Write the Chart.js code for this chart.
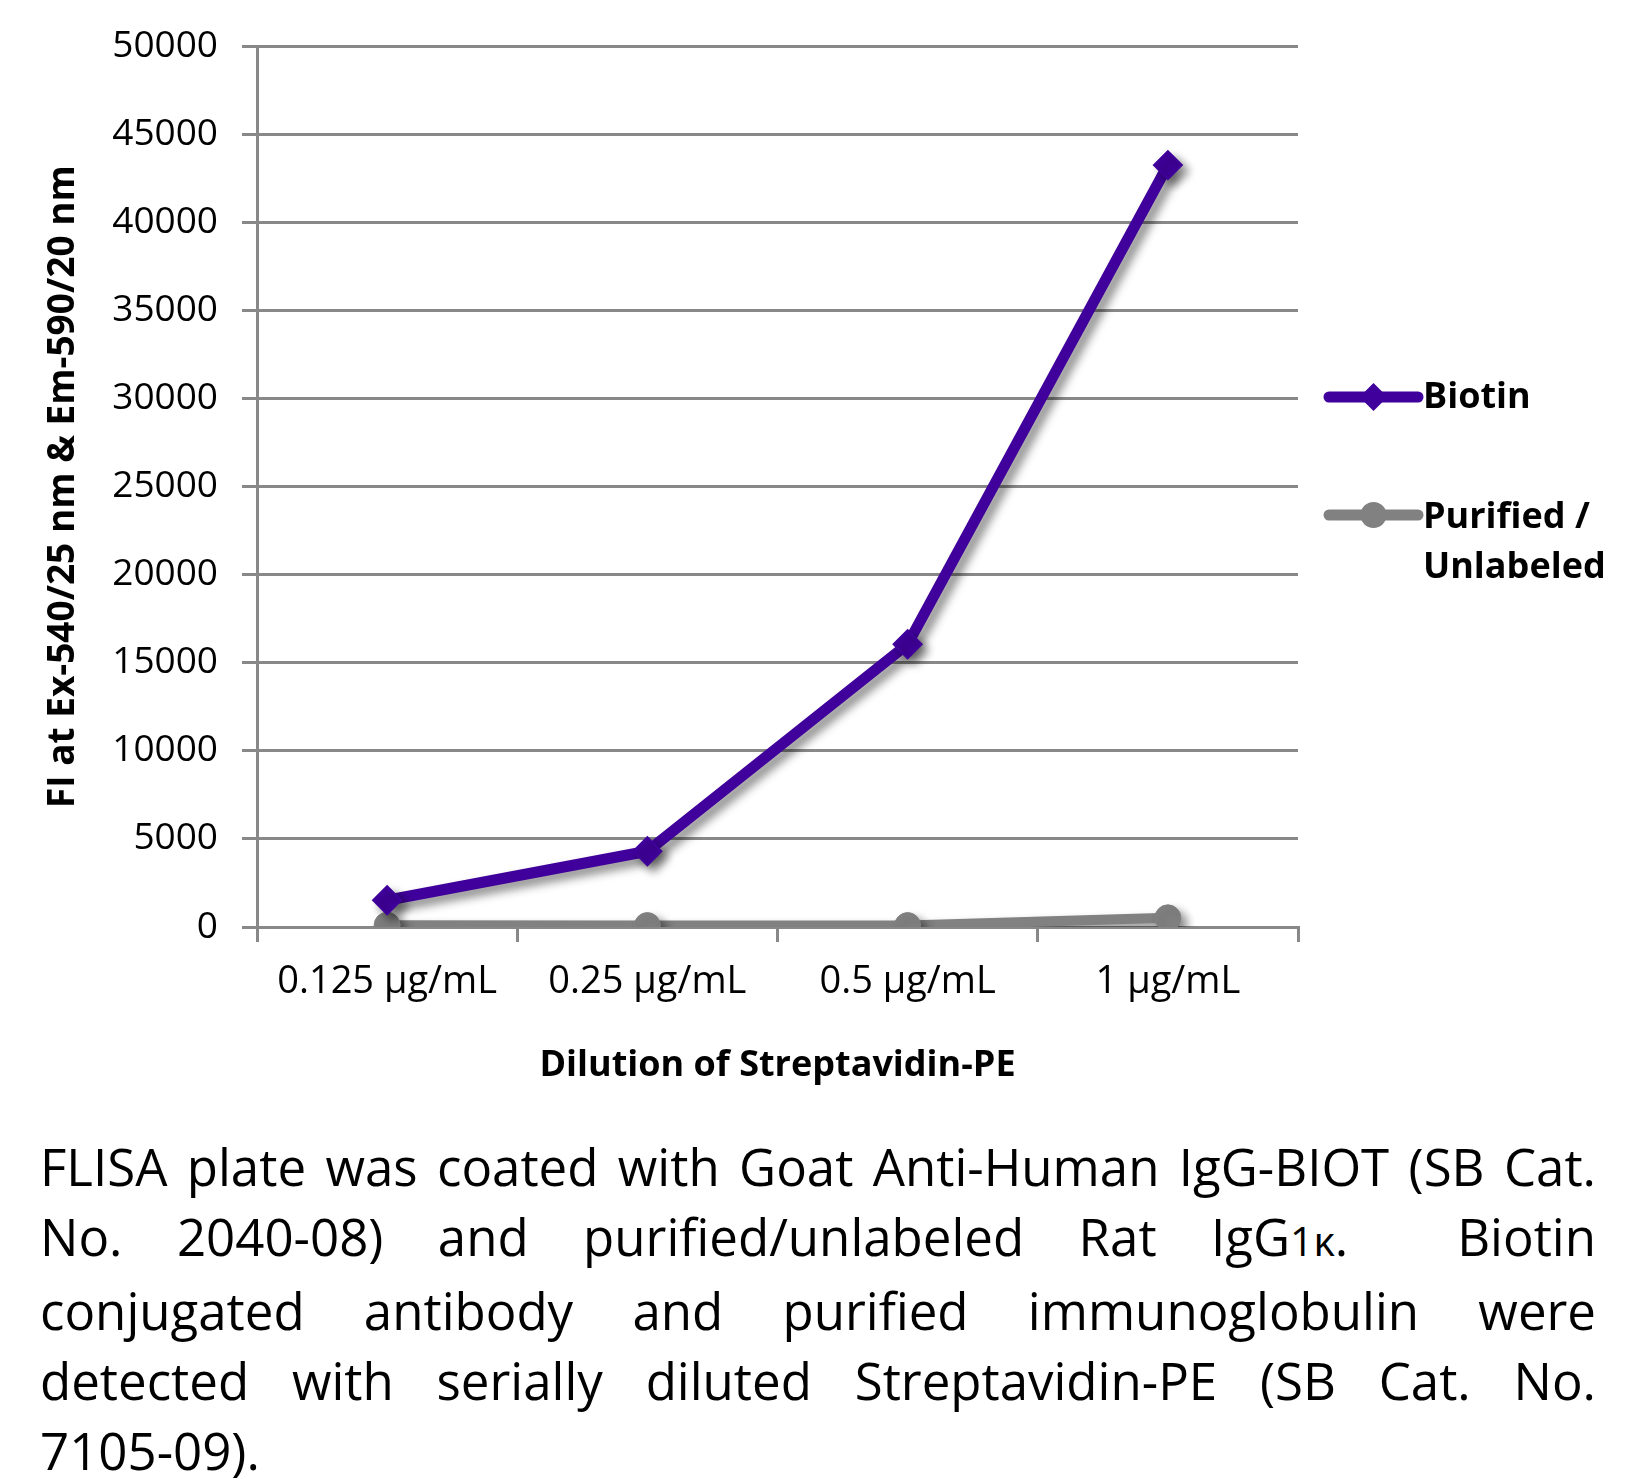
<!DOCTYPE html>
<html>
<head>
<meta charset="utf-8">
<script src="https://cdn.jsdelivr.net/npm/chart.js@4.4.1/dist/chart.umd.min.js"></script>
<style>
  html, body { margin: 0; padding: 0; background: #ffffff; }
  body { width: 1644px; height: 1481px; position: relative; overflow: hidden; font-family: "Open Sans", sans-serif; }
  #wrap { position: absolute; left: 0; top: 0; width: 1644px; height: 1110px; }
  #caption { position: absolute; left: 40px; top: 1131px; width: 1556px; font-size: 51px; line-height: 70px; color: #000; }
  #caption div { white-space: nowrap; }
  .sub { font-size: 0.8em; }
</style>
</head>
<body>
<div id="wrap"><canvas id="c"></canvas></div>
<div id="caption">
  <div class="ln">FLISA plate was coated with Goat Anti-Human IgG-BIOT (SB Cat.</div>
  <div class="ln">No. 2040-08) and purified/unlabeled Rat IgG<span class="sub">1κ</span>.&nbsp; Biotin</div>
  <div class="ln">conjugated antibody and purified immunoglobulin were</div>
  <div class="ln">detected with serially diluted Streptavidin-PE (SB Cat. No.</div>
  <div>7105-09).</div>
</div>
<script>
const categories = ['0.125 µg/mL', '0.25 µg/mL', '0.5 µg/mL', '1 µg/mL'];
const biotinValues = [1520, 4300, 16050, 43250];
const purifiedValues = [100, 80, 80, 520];
const seriesNames = ['Biotin', ['Purified /', 'Unlabeled']];
const yTickMin = 0, yTickMax = 50000, yTickStep = 5000;
const yTitle = 'FI at Ex-540/25 nm & Em-590/20 nm';
const xTitle = 'Dilution of Streptavidin-PE';

const PURPLE = '#40009b';
const GRAY = '#818181';
const GRID = '#888888';

// justify each caption line to the full width
function justifyCaption() {
  const target = 1556;
  document.querySelectorAll('#caption .ln').forEach(el => {
    el.style.wordSpacing = '0px';
    const range = document.createRange();
    range.selectNodeContents(el);
    const w = range.getBoundingClientRect().width;
    const gaps = (el.textContent.match(/[ \u00a0]/g) || []).length;
    if (gaps > 0) el.style.wordSpacing = ((target - w) / gaps) + 'px';
  });
}

const shadowPlugin = {
  id: 'shadowPlugin',
  beforeDatasetsDraw(chart) {
    const ctx = chart.ctx;
    ctx.save();
    ctx.shadowColor = 'rgba(0,0,0,0.45)';
    ctx.shadowBlur = 10;
    ctx.shadowOffsetX = 6;
    ctx.shadowOffsetY = 6;
  },
  afterDatasetsDraw(chart) {
    chart.ctx.restore();
  }
};

const legendPlugin = {
  id: 'customLegend',
  afterDraw(chart) {
    const ctx = chart.ctx;
    const area = chart.chartArea;
    const x0 = area.right + 31, x1 = area.right + 120, tx = area.right + 125;
    const rows = [{ y: 397, base: [408] }, { y: 515, base: [528, 578] }];
    chart.data.datasets.forEach((ds, i) => {
      const r = rows[i];
      ctx.save();
      ctx.strokeStyle = ds.borderColor;
      ctx.lineWidth = 11;
      ctx.lineCap = 'round';
      ctx.beginPath();
      ctx.moveTo(x0, r.y);
      ctx.lineTo(x1, r.y);
      ctx.stroke();
      const mx = (x0 + x1) / 2;
      ctx.fillStyle = ds.backgroundColor;
      ctx.beginPath();
      if (ds.pointStyle === 'rectRot') {
        const s = 14;
        ctx.moveTo(mx - s, r.y); ctx.lineTo(mx, r.y - s); ctx.lineTo(mx + s, r.y); ctx.lineTo(mx, r.y + s);
        ctx.closePath();
      } else {
        ctx.arc(mx, r.y, 13, 0, Math.PI * 2);
      }
      ctx.fill();
      ctx.fillStyle = '#000';
      ctx.font = 'bold 36px "Open Sans"';
      ctx.textBaseline = 'alphabetic';
      ctx.textAlign = 'left';
      const lines = Array.isArray(seriesNames[i]) ? seriesNames[i] : [seriesNames[i]];
      lines.forEach((t, k) => ctx.fillText(t, tx, r.base[k]));
      ctx.restore();
    });
  }
};

function build() {
  justifyCaption();
  const ctx = document.getElementById('c');
  new Chart(ctx, {
    type: 'line',
    data: {
      labels: categories,
      datasets: [
        {
          label: 'Biotin',
          data: biotinValues,
          borderColor: PURPLE,
          backgroundColor: PURPLE,
          borderWidth: 11,
          pointStyle: 'rectRot',
          pointRadius: 14,
          pointBorderWidth: 2,
          pointBorderColor: PURPLE,
          pointBackgroundColor: PURPLE,
          tension: 0,
          order: 1
        },
        {
          label: 'Purified / Unlabeled',
          data: purifiedValues,
          borderColor: GRAY,
          backgroundColor: GRAY,
          borderWidth: 10,
          pointStyle: 'circle',
          pointRadius: 13,
          pointBorderWidth: 1,
          pointBorderColor: GRAY,
          pointBackgroundColor: GRAY,
          tension: 0,
          order: 2
        }
      ]
    },
    options: {
      responsive: true,
      maintainAspectRatio: false,
      devicePixelRatio: 1,
      animation: false,
      events: [],
      layout: { padding: { left: 0, right: 346, top: 43, bottom: 0 } },
      plugins: {
        legend: { display: false },
        tooltip: { enabled: false }
      },
      scales: {
        x: {
          type: 'category',
          offset: true,
          grid: {
            offset: true,
            drawOnChartArea: false,
            drawTicks: true,
            tickLength: 15,
            color: GRID,
            lineWidth: 3
          },
          border: { display: true, color: GRID, width: 3 },
          ticks: {
            color: '#000',
            font: { family: 'Open Sans', size: 38 },
            padding: 17,
            maxRotation: 0,
            autoSkip: false
          },
          title: {
            display: true,
            text: xTitle,
            color: '#000',
            font: { family: 'Open Sans', size: 36, weight: 'bold' },
            padding: { top: 0, bottom: 23 }
          },
          afterFit(scale) { scale.height = 1110 - 927; }
        },
        y: {
          min: yTickMin,
          max: yTickMax,
          grid: {
            drawOnChartArea: true,
            drawTicks: true,
            tickLength: 15,
            color: GRID,
            lineWidth: 3
          },
          border: { display: true, color: GRID, width: 3 },
          ticks: {
            stepSize: yTickStep,
            color: '#000',
            font: { family: 'Open Sans', size: 37 },
            padding: 24,
            callback: (v) => String(v)
          },
          title: {
            display: true,
            text: yTitle,
            color: '#000',
            font: { family: 'Open Sans', size: 37, weight: 'bold' },
            padding: { top: 41, bottom: 0 }
          },
          afterFit(scale) { scale.width = 257; }
        }
      }
    },
    plugins: [shadowPlugin, legendPlugin]
  });
}

if (document.fonts && document.fonts.ready) {
  document.fonts.load('51px "Open Sans"').then(() => document.fonts.load('bold 36px "Open Sans"')).then(build, build);
} else {
  build();
}
</script>
</body>
</html>
